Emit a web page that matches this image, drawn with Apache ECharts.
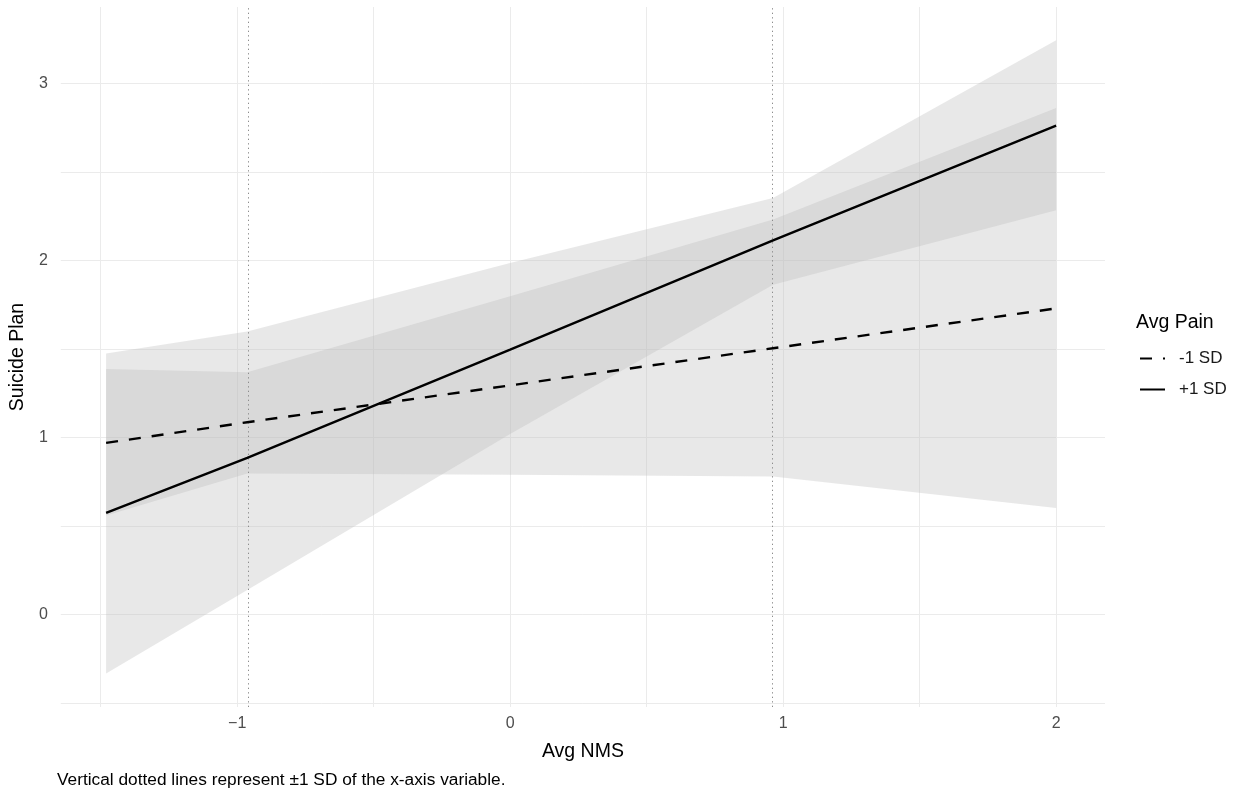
<!DOCTYPE html>
<html><head><meta charset="utf-8">
<script src="https://cdn.jsdelivr.net/npm/echarts@6/dist/echarts.min.js"></script>
<style>html,body{margin:0;padding:0;background:#fff}#chart{width:1238px;height:794px}</style>
</head><body><div id="chart"></div>
<script>
// ---- data ----
const xNMS = [-1.48, -0.963, 0, 0.963, 2.0];
const lowPainFit   = [0.97, 1.087, 1.295, 1.505, 1.73];
const lowPainLower = [0.56, 0.797, 0.79, 0.781, 0.603];
const lowPainUpper = [1.388, 1.369, 1.799, 2.232, 2.863];
const highPainFit   = [0.575, 0.885, 1.497, 2.115, 2.763];
const highPainLower = [-0.333, 0.139, 1.02, 1.864, 2.284];
const highPainUpper = [1.475, 1.60, 1.987, 2.354, 3.245];
const sdMarks = [-0.9635, 0.9635];
const seriesNames = ['-1 SD', '+1 SD'];
const xTickValues = [-1, 0, 1, 2];
const yTickValues = [0, 1, 2, 3];
const xTitle = 'Avg NMS';
const yTitle = 'Suicide Plan';
const legendTitle = 'Avg Pain';
const captionText = 'Vertical dotted lines represent \u00b11 SD of the x-axis variable.';

const FONT = '"Liberation Sans", Arial, sans-serif';
const BAND_FILL = 'rgba(190,190,190,0.35)';

function fmtTick(list) {
  return function (v) {
    const r = Math.round(v * 1000) / 1000;
    if (list.indexOf(r) < 0) return '';
    return String(r).replace('-', '\u2212');
  };
}

function band(lower, upper) {
  return {
    type: 'custom',
    silent: true,
    data: [[xNMS[0], lower[0]]],
    renderItem: function (params, api) {
      const pts = [];
      for (let i = 0; i < xNMS.length; i++) pts.push(api.coord([xNMS[i], upper[i]]));
      for (let i = xNMS.length - 1; i >= 0; i--) pts.push(api.coord([xNMS[i], lower[i]]));
      return { type: 'polygon', shape: { points: pts }, style: { fill: BAND_FILL } };
    }
  };
}

const chart = echarts.init(document.getElementById('chart'), null, { renderer: 'canvas' });

const gridLine = { show: true, showMinLine: false, showMaxLine: false, lineStyle: { color: '#ebebeb', width: 1 } };

chart.setOption({
  animation: false,
  backgroundColor: '#ffffff',
  grid: { left: 57, right: 133, top: 7, bottom: 87, containLabel: false },
  xAxis: {
    type: 'value', min: -1.646, max: 2.179, splitNumber: 8,
    axisLine: { show: false }, axisTick: { show: false },
    splitLine: gridLine,
    axisLabel: { formatter: fmtTick(xTickValues), color: '#4d4d4d', fontSize: 16, fontFamily: FONT, margin: 9, showMinLabel: false, showMaxLabel: false },
    name: xTitle, nameLocation: 'middle', nameGap: 35,
    nameTextStyle: { color: '#000', fontSize: 19.5, fontFamily: FONT }
  },
  yAxis: {
    type: 'value', min: -0.522, max: 3.433, splitNumber: 8,
    axisLine: { show: false }, axisTick: { show: false },
    splitLine: gridLine,
    axisLabel: { formatter: fmtTick(yTickValues), color: '#4d4d4d', fontSize: 16, fontFamily: FONT, margin: 13, showMinLabel: false, showMaxLabel: false },
    name: yTitle, nameLocation: 'middle', nameGap: 27, nameRotate: 90,
    nameTextStyle: { color: '#000', fontSize: 19.5, fontFamily: FONT }
  },
  legend: {
    data: seriesNames, orient: 'vertical', left: 1139, top: 350, padding: 0,
    itemWidth: 25, itemHeight: 14, itemGap: 14, selectedMode: false,
    itemStyle: { opacity: 0 },
    textStyle: { color: '#1a1a1a', fontSize: 17, fontFamily: FONT, padding: [0, 0, 0, 9] }
  },
  graphic: [
    { type: 'text', left: 1136, top: 313, style: { text: legendTitle, fill: '#000', font: '19.5px ' + FONT } },
    { type: 'text', left: 57, top: 772, style: { text: captionText, fill: '#000', font: '17.3px ' + FONT } }
  ],
  series: [
    band(lowPainLower, lowPainUpper),
    band(highPainLower, highPainUpper),
    {
      name: seriesNames[0], type: 'line', symbol: 'none', z: 5,
      data: xNMS.map((x, i) => [x, lowPainFit[i]]),
      lineStyle: { color: '#000', width: 2.4, type: [12, 11] },
      itemStyle: { color: '#000' },
      markLine: {
        silent: true, symbol: 'none', label: { show: false },
        lineStyle: { color: '#8c8c8c', width: 1, type: [1.3, 3.2] },
        data: sdMarks.map(v => ({ xAxis: v }))
      }
    },
    {
      name: seriesNames[1], type: 'line', symbol: 'none', z: 5,
      data: xNMS.map((x, i) => [x, highPainFit[i]]),
      lineStyle: { color: '#000', width: 2.4, type: 'solid' },
      itemStyle: { color: '#000' }
    }
  ]
});
</script>
</body></html>
